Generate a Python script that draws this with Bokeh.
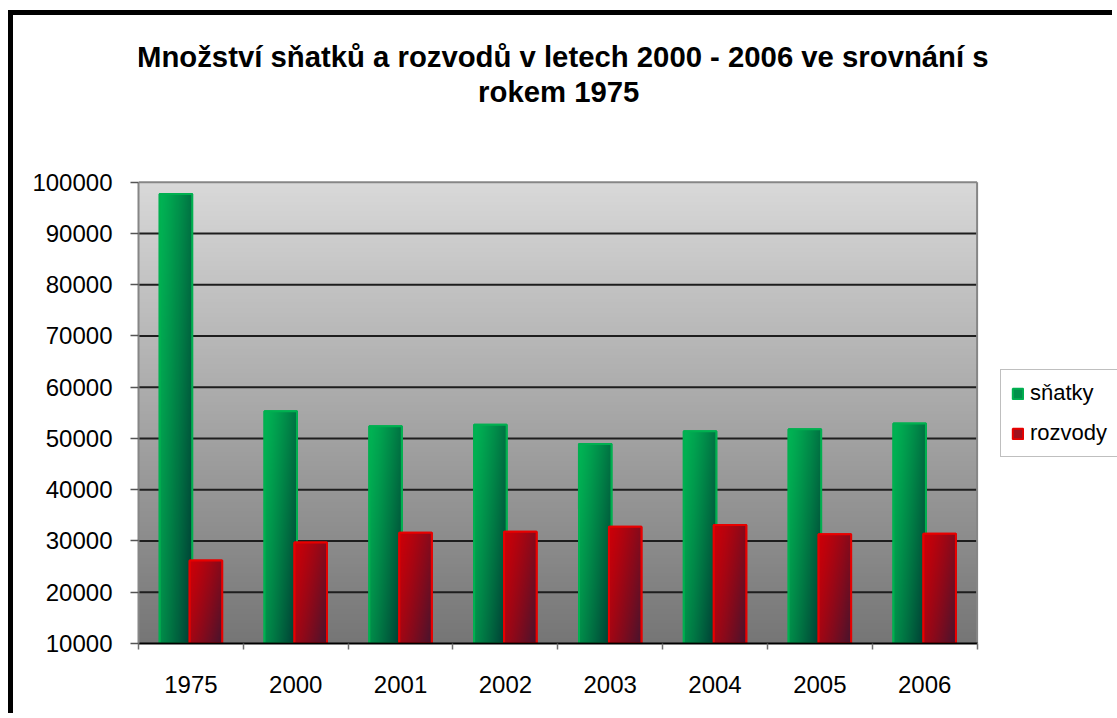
import numpy as np
from bokeh.plotting import figure
from bokeh.models import (Range1d, FixedTicker, ColumnDataSource, Legend, LegendItem,
                          PrintfTickFormatter)
from bokeh.core.properties import value
from bokeh.embed import file_html
from bokeh.resources import INLINE

# ---------------- data ----------------
years = ["1975", "2000", "2001", "2002", "2003", "2004", "2005", "2006"]
snatky = [97700, 55300, 52400, 52700, 48900, 51400, 51800, 52900]
rozvody = [26200, 29700, 31600, 31800, 32800, 33100, 31300, 31400]
series_names = ["sňatky", "rozvody"]
y_ticks = [10000, 20000, 30000, 40000, 50000, 60000, 70000, 80000, 90000, 100000]
title_lines = ["Množství sňatků a rozvodů v letech 2000 - 2006 ve srovnání s",
               "rokem  1975"]

FONT = "Liberation Sans"
n = len(years)
ymin, ymax = y_ticks[0], y_ticks[-1]
centers = np.arange(n) + 0.5
bounds = np.arange(n + 1)

# ---------------- layout constants (pixels on the canvas) ----------------
W, H = 1104, 703
LEFT = 125            # frame left
BOTTOM = 75           # space under the frame
PLOT_W = 838.6        # width of the category area
PLOT_TOP = 166.7      # canvas y of the top value
PLOT_H = (H - BOTTOM) - PLOT_TOP
PX_X = PLOT_W / n
PX_Y = PLOT_H / (ymax - ymin)
x_end = (W - LEFT) / PX_X
y_end = ymax + PLOT_TOP / PX_Y


def y_at(canvas_y):
    return ymax + (PLOT_TOP - canvas_y) / PX_Y


def gradient(light, dark, rows=256, cols=32, wu=0.6, gamma=1.25):
    v = np.linspace(0, 1, rows)[:, None]   # 0 bottom -> 1 top
    u = np.linspace(0, 1, cols)[None, :]   # 0 left -> 1 right
    t = np.clip(wu * u + (1 - wu) * (1 - v), 0, 1) ** gamma
    img = np.empty((rows, cols), dtype=np.uint32)
    view = img.view(dtype=np.uint8).reshape((rows, cols, 4))
    for k in range(3):
        view[:, :, k] = (light[k] + (dark[k] - light[k]) * t).astype(np.uint8)
    view[:, :, 3] = 255
    return img


def vgradient(top, bottom, rows=256):
    v = np.linspace(0, 1, rows)[:, None]
    img = np.empty((rows, 2), dtype=np.uint32)
    view = img.view(dtype=np.uint8).reshape((rows, 2, 4))
    for k in range(3):
        view[:, :, k] = (bottom[k] + (top[k] - bottom[k]) * v).astype(np.uint8)
    view[:, :, 3] = 255
    return img


p = figure(width=W, height=H,
           x_range=Range1d(0, x_end), y_range=Range1d(ymin, y_end),
           output_backend="svg", toolbar_location=None, title_location=None,
           min_border_left=LEFT, min_border_right=0,
           min_border_top=0, min_border_bottom=BOTTOM)
p.styles = {"border-left": "5px solid black", "border-top": "5px solid black",
            "margin-left": "8px", "margin-top": "10px"}
p.background_fill_color = "white"
p.border_fill_color = "white"
p.outline_line_color = None

# plot-area gradient background
p.image_rgba(image=[vgradient((217, 217, 217), (118, 118, 118))],
             x=0, y=ymin, dw=n, dh=ymax - ymin, level="image")

# grid lines (only across the category area)
p.xgrid.visible = False
p.ygrid.visible = False
grid_y = y_ticks[1:-1]
p.segment(x0=[0] * len(grid_y), x1=[n] * len(grid_y), y0=grid_y, y1=grid_y,
          line_color="#1e1e1e", line_width=2)

# bars
w = 0.31
off = 0.143
green_img = gradient((0, 180, 84), (0, 58, 52))
red_img = gradient((204, 0, 8), (72, 20, 46))

legend_renderers = []
for vals, img, sign, edge, mid in ((snatky, green_img, -1, "#00b050", "#00904a"),
                                   (rozvody, red_img, 1, "#e80000", "#a0101e")):
    xc = centers + sign * off
    base = p.vbar(x=xc, top=vals, bottom=ymin, width=w, fill_color=mid,
                  line_color=edge, line_width=2)
    legend_renderers.append(base)
    src = ColumnDataSource(dict(image=[img] * n, x=xc - w / 2, y=[ymin] * n,
                                dw=[w] * n, dh=np.array(vals) - ymin))
    p.image_rgba(image="image", x="x", y="y", dw="dw", dh="dh", source=src)
    p.vbar(x=xc, top=vals, bottom=ymin, width=w, fill_alpha=0,
           line_color=edge, line_width=2)

# plot-area border (top and right)
p.segment(x0=[0, n], x1=[n, n], y0=[ymax, ymin], y1=[ymax, ymax],
          line_color="#868686", line_width=2)

# title
p.text(x=[n / 2, n / 2], y=[y_at(41), y_at(76)], text=title_lines,
       text_font=value(FONT), text_font_size="29.3px", text_font_style="bold",
       text_color="black", text_align="center", text_baseline="alphabetic",
       x_offset=5)

# legend
legend = Legend(items=[LegendItem(label=series_names[0], renderers=[legend_renderers[0]]),
                       LegendItem(label=series_names[1], renderers=[legend_renderers[1]])],
                location=(987 - LEFT, (H - BOTTOM) - 442), margin=0, padding=10, spacing=14,
                glyph_width=13, glyph_height=13, label_standoff=6, label_height=20,
                label_width=110,
                label_text_font=FONT, label_text_font_size="22px", label_text_color="black",
                border_line_color="#7f7f7f", border_line_width=1,
                background_fill_color="white", background_fill_alpha=1)
p.add_layout(legend, "center")

# x axis
xax = p.xaxis[0]
xax.bounds = (0, n)
xax.ticker = FixedTicker(ticks=list(centers), minor_ticks=list(bounds))
xax.major_label_overrides = {float(c): yr for c, yr in zip(centers, years)}
xax.major_tick_out = 0
xax.major_tick_in = 0
xax.minor_tick_out = 6
xax.minor_tick_in = 0
xax.minor_tick_line_color = "#6f6f6f"
xax.minor_tick_line_width = 1.5
xax.axis_line_color = "black"
xax.axis_line_width = 2
xax.major_label_text_font = FONT
xax.major_label_text_font_size = "24px"
xax.major_label_text_color = "black"
xax.major_label_standoff = 26

# y axis
yax = p.yaxis[0]
yax.bounds = (ymin, ymax)
yax.ticker = FixedTicker(ticks=y_ticks)
yax.formatter = PrintfTickFormatter(format="%d")
yax.minor_tick_line_color = None
yax.major_tick_out = 8
yax.major_tick_in = 0
yax.major_tick_line_color = "#555555"
yax.major_tick_line_width = 1.5
yax.axis_line_color = "#868686"
yax.axis_line_width = 2
yax.major_label_text_font = FONT
yax.major_label_text_font_size = "24px"
yax.major_label_text_color = "black"
yax.major_label_standoff = 18

open("out.html", "w").write(file_html(p, INLINE))
